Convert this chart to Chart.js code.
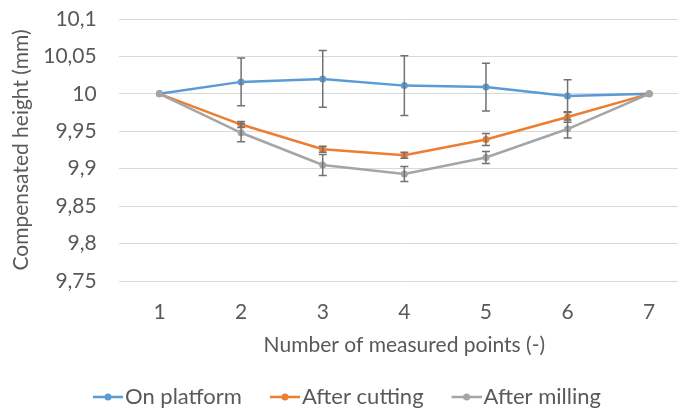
<!DOCTYPE html>
<html>
<head>
<meta charset="utf-8">
<script src="https://cdn.jsdelivr.net/npm/chart.js@4.4.1/dist/chart.umd.min.js"></script>
<style>
  html, body { margin: 0; padding: 0; background: #fff; overflow: hidden; }
  #wrap { width: 694px; height: 412px; }
</style>
</head>
<body>
<div id="wrap"><canvas id="chart" width="694" height="412"></canvas></div>
<script>
  /* ---------- Data ---------- */
  const categories      = ["1", "2", "3", "4", "5", "6", "7"];
  const onPlatform      = [10.000, 10.016, 10.020, 10.011, 10.009, 9.997, 10.000];
  const onPlatformErr   = [0, 0.032, 0.038, 0.040, 0.032, 0.022, 0];
  const afterCutting    = [10.000, 9.959, 9.926, 9.918, 9.939, 9.969, 10.000];
  const afterCuttingErr = [0, 0.004, 0.004, 0.004, 0.008, 0.007, 0];
  const afterMilling    = [10.000, 9.948, 9.905, 9.893, 9.915, 9.953, 10.000];
  const afterMillingErr = [0, 0.012, 0.014, 0.010, 0.008, 0.012, 0];
  const yTicks          = [9.75, 9.8, 9.85, 9.9, 9.95, 10, 10.05, 10.1];

  const BLUE = "#5b9bd5", ORANGE = "#ed7d31", GREY = "#a5a5a5";
  const TEXT = "#595959", GRID = "#d9d9d9";
  const FONT = "Lato";

  /* legend marker: short line with a dot (drawn in the right part of the image) */
  function marker(color) {
    const c = document.createElement("canvas");
    c.width = 40; c.height = 12;
    const g = c.getContext("2d");
    g.strokeStyle = color; g.lineWidth = 2.5;
    g.beginPath(); g.moveTo(10, 6); g.lineTo(40, 6); g.stroke();
    g.fillStyle = color;
    g.beginPath(); g.arc(25, 6, 3.5, 0, Math.PI * 2); g.fill();
    return c;
  }

  /* ---------- error bars drawn through the y scale ---------- */
  const errorBars = {
    id: "errorBars",
    afterDatasetsDraw(chart) {
      const ctx = chart.ctx, y = chart.scales.y;
      ctx.save();
      ctx.strokeStyle = "#727272";
      ctx.lineWidth = 1.5;
      chart.data.datasets.forEach((ds, di) => {
        const meta = chart.getDatasetMeta(di);
        ds.errors.forEach((e, i) => {
          if (!e) return;
          const x = meta.data[i].x;
          const top = y.getPixelForValue(ds.data[i] + e);
          const bot = y.getPixelForValue(ds.data[i] - e);
          ctx.beginPath();
          ctx.moveTo(x, top); ctx.lineTo(x, bot);
          ctx.moveTo(x - 4, top); ctx.lineTo(x + 4, top);
          ctx.moveTo(x - 4, bot); ctx.lineTo(x + 4, bot);
          ctx.stroke();
        });
      });
      ctx.restore();
    }
  };

  function series(label, data, errors, color, order) {
    return {
      label, data, errors, order,
      borderColor: color,
      backgroundColor: color,
      borderWidth: 2.5,
      pointRadius: 3.5,
      pointBackgroundColor: color,
      pointBorderWidth: 0,
      tension: 0,
    };
  }

  const fmt = v => String(+v.toFixed(2)).replace(".", ",");

  new Chart(document.getElementById("chart"), {
    type: "line",
    data: {
      labels: categories,
      datasets: [
        series("On platform", onPlatform, onPlatformErr, BLUE, 3),
        series("After cutting", afterCutting, afterCuttingErr, ORANGE, 2),
        series("After milling", afterMilling, afterMillingErr, GREY, 1),
      ],
    },
    options: {
      responsive: false,
      animation: false,
      layout: { padding: { top: 19, right: 1, bottom: 0, left: 0 } },
      plugins: {
        tooltip: { enabled: false },
        legend: {
          position: "bottom",
          maxHeight: 53,
          labels: {
            color: TEXT,
            font: { family: FONT, size: 22 },
            usePointStyle: true,
            pointStyleWidth: 22,
            padding: 27,
            generateLabels(chart) {
              return chart.data.datasets.map((ds, i) => ({
                text: ds.label,
                fontColor: TEXT,
                pointStyle: marker(ds.borderColor),
                datasetIndex: i,
                hidden: false,
                lineWidth: 0,
              }));
            },
          },
        },
      },
      scales: {
        x: {
          offset: true,
          afterFit(scale) { scale.height = 78; },
          grid: { display: false, drawTicks: true, tickLength: 19, tickColor: "transparent" },
          border: { display: false },
          ticks: { color: TEXT, font: { family: FONT, size: 21 }, padding: 0 },
          title: {
            display: true,
            text: "Number of measured points (-)",
            color: TEXT,
            font: { family: FONT, size: 21 },
            padding: { top: 8, bottom: 1 },
          },
        },
        y: {
          min: 9.75,
          max: 10.1,
          afterBuildTicks(scale) { scale.ticks = yTicks.map(v => ({ value: v })); },
          grid: { color: GRID, lineWidth: 1, drawTicks: true, tickLength: 22, tickColor: "transparent" },
          border: { display: false },
          ticks: { color: TEXT, font: { family: FONT, size: 21 }, padding: 0, callback: v => fmt(v) },
          title: {
            display: true,
            text: "Compensated height (mm)",
            color: TEXT,
            font: { family: FONT, size: 21 },
            padding: { top: 9, bottom: 9 },
          },
        },
      },
    },
    plugins: [errorBars],
  });
</script>
</body>
</html>
